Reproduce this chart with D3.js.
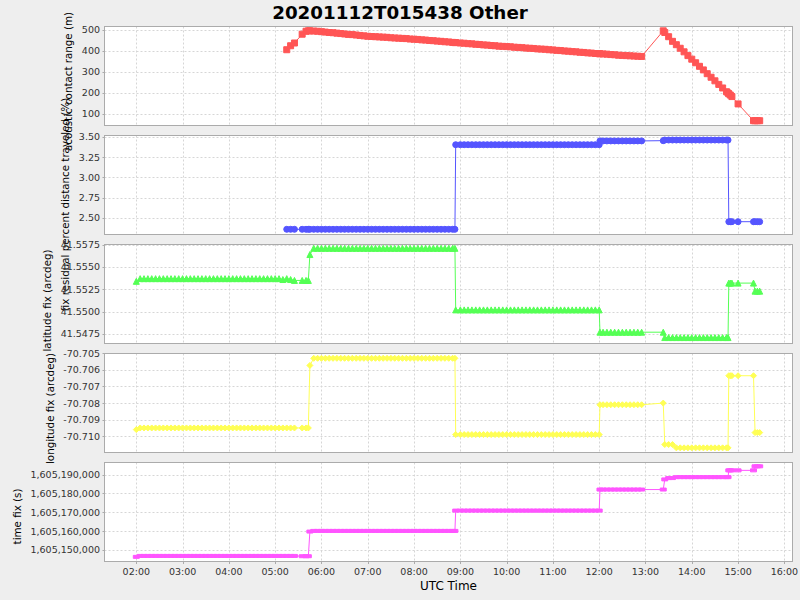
<!DOCTYPE html>
<html><head><meta charset="utf-8">
<script src="https://cdn.jsdelivr.net/npm/d3@7"></script>
<style>
body{margin:0;background:#EEEEEE;}
svg{display:block;font-family:"DejaVu Sans",sans-serif;}
</style>
</head><body>
<svg id="chart" width="800" height="600"></svg>
<script>
// ---------------- DATA ----------------
const chartTitle = "20201112T015438 Other";
const xAxisLabel = "UTC Time";

const times = [
"02:00","02:05","02:10","02:15","02:20","02:25","02:30","02:35","02:40","02:45","02:50","02:55",
"03:00","03:05","03:10","03:15","03:20","03:25","03:30","03:35","03:40","03:45","03:50","03:55",
"04:00","04:05","04:10","04:15","04:20","04:25","04:30","04:35","04:40","04:45","04:50","04:55",
"05:00","05:05","05:10","05:15","05:20","05:25","05:35","05:40","05:43","05:45","05:50","05:55",
"06:00","06:05","06:10","06:15","06:20","06:25","06:30","06:35","06:40","06:45","06:50","06:55",
"07:00","07:05","07:10","07:15","07:20","07:25","07:30","07:35","07:40","07:45","07:50","07:55",
"08:00","08:05","08:10","08:15","08:20","08:25","08:30","08:35","08:40","08:45","08:50","08:53","08:54",
"09:00","09:05","09:10","09:15","09:20","09:25","09:30","09:35","09:40","09:45","09:50","09:55",
"10:00","10:05","10:10","10:15","10:20","10:25","10:30","10:35","10:40","10:45","10:50","10:55",
"11:00","11:05","11:10","11:15","11:20","11:25","11:30","11:35","11:40","11:45","11:50","11:55",
"12:00","12:01","12:05","12:10","12:15","12:20","12:25","12:30","12:35","12:40","12:45","12:50","12:55",
"13:23","13:25","13:30","13:35","13:40","13:45","13:50","13:55",
"14:00","14:05","14:10","14:15","14:20","14:25","14:30","14:35","14:40","14:45","14:47","14:48","14:50","14:52",
"15:00","15:20","15:22","15:25","15:28"
];

const rangeValues = [
null,null,null,null,null,null,null,null,null,null,null,null,
null,null,null,null,null,null,null,null,null,null,null,null,
null,null,null,null,null,null,null,null,null,null,null,null,
null,null,null,406,425,438,480,494,496,496,495,494,
492,490,488,487,485,483,481,479,478,476,474,472,
470,469,468,467,466,465,463,462,461,460,459,457,
456,455,453,452,450,449,447,446,444,443,441,440,440,
438,437,435,434,432,431,429,428,426,425,423,422,
421,420,418,417,416,414,413,412,410,409,408,406,
405,403,402,400,399,397,396,394,393,391,390,388,
387,387,386,385,383,382,380,379,378,377,376,375,374,
496,488,468,446,430,413,396,378,
361,344,327,310,292,275,258,241,224,206,200,196,190,183,
148,68,68,68,68
];

const percentValues = [
null,null,null,null,null,null,null,null,null,null,null,null,
null,null,null,null,null,null,null,null,null,null,null,null,
null,null,null,null,null,null,null,null,null,null,null,null,
null,null,null,2.36,2.36,2.36,2.36,2.36,2.36,2.36,2.36,2.36,
2.36,2.36,2.36,2.36,2.36,2.36,2.36,2.36,2.36,2.36,2.36,2.36,
2.36,2.36,2.36,2.36,2.36,2.36,2.36,2.36,2.36,2.36,2.36,2.36,
2.36,2.36,2.36,2.36,2.36,2.36,2.36,2.36,2.36,2.36,2.36,2.36,3.405,
3.405,3.405,3.405,3.405,3.405,3.405,3.405,3.405,3.405,3.405,3.405,3.405,
3.405,3.405,3.405,3.405,3.405,3.405,3.405,3.405,3.405,3.405,3.405,3.405,
3.405,3.405,3.405,3.405,3.405,3.405,3.405,3.405,3.405,3.405,3.405,3.405,
3.405,3.452,3.452,3.452,3.452,3.452,3.452,3.452,3.452,3.452,3.452,3.452,3.452,
3.455,3.463,3.463,3.463,3.463,3.463,3.463,3.463,
3.463,3.463,3.463,3.463,3.463,3.463,3.463,3.463,3.463,3.463,3.463,2.454,2.454,2.454,
2.454,2.454,2.454,2.454,2.454
];

const latitudeValues = [
41.5534,41.5537,41.5537,41.5537,41.5537,41.5537,41.5537,41.5537,41.5537,41.5537,41.5537,41.5537,
41.5537,41.5537,41.5537,41.5537,41.5537,41.5537,41.5537,41.5537,41.5537,41.5537,41.5537,41.5537,
41.5537,41.5537,41.5537,41.5537,41.5537,41.5537,41.5537,41.5537,41.5537,41.5537,41.5537,41.5537,
41.5537,41.5537,41.5536,41.5537,41.5536,41.5535,41.5535,41.5535,41.5535,41.5564,41.5571,41.5571,
41.5571,41.5571,41.5571,41.5571,41.5571,41.5571,41.5571,41.5571,41.5571,41.5571,41.5571,41.5571,
41.5571,41.5571,41.5571,41.5571,41.5571,41.5571,41.5571,41.5571,41.5571,41.5571,41.5571,41.5571,
41.5571,41.5571,41.5571,41.5571,41.5571,41.5571,41.5571,41.5571,41.5571,41.5571,41.5571,41.5571,41.5502,
41.5502,41.5502,41.5502,41.5502,41.5502,41.5502,41.5502,41.5502,41.5502,41.5502,41.5502,41.5502,
41.5502,41.5502,41.5502,41.5502,41.5502,41.5502,41.5502,41.5502,41.5502,41.5502,41.5502,41.5502,
41.5502,41.5502,41.5502,41.5502,41.5502,41.5502,41.5502,41.5502,41.5502,41.5502,41.5502,41.5502,
41.5502,41.5477,41.5477,41.5477,41.5477,41.5477,41.5477,41.5477,41.5477,41.5477,41.5477,41.5477,41.5477,
41.5477,41.5471,41.5471,41.5471,41.5471,41.5471,41.5471,41.5471,
41.5471,41.5471,41.5471,41.5471,41.5471,41.5471,41.5471,41.5471,41.5471,41.5471,41.5471,41.5532,41.5532,41.5532,
41.5532,41.5532,41.5523,41.5523,41.5523
];

const longitudeValues = [
-70.7096,-70.7095,-70.7095,-70.7095,-70.7095,-70.7095,-70.7095,-70.7095,-70.7095,-70.7095,-70.7095,-70.7095,
-70.7095,-70.7095,-70.7095,-70.7095,-70.7095,-70.7095,-70.7095,-70.7095,-70.7095,-70.7095,-70.7095,-70.7095,
-70.7095,-70.7095,-70.7095,-70.7095,-70.7095,-70.7095,-70.7095,-70.7095,-70.7095,-70.7095,-70.7095,-70.7095,
-70.7095,-70.7095,-70.7095,-70.7095,-70.7095,-70.7095,-70.7095,-70.7095,-70.7095,-70.70573,-70.7053,-70.7053,
-70.7053,-70.7053,-70.7053,-70.7053,-70.7053,-70.7053,-70.7053,-70.7053,-70.7053,-70.7053,-70.7053,-70.7053,
-70.7053,-70.7053,-70.7053,-70.7053,-70.7053,-70.7053,-70.7053,-70.7053,-70.7053,-70.7053,-70.7053,-70.7053,
-70.7053,-70.7053,-70.7053,-70.7053,-70.7053,-70.7053,-70.7053,-70.7053,-70.7053,-70.7053,-70.7053,-70.7053,-70.7099,
-70.7099,-70.7099,-70.7099,-70.7099,-70.7099,-70.7099,-70.7099,-70.7099,-70.7099,-70.7099,-70.7099,-70.7099,
-70.7099,-70.7099,-70.7099,-70.7099,-70.7099,-70.7099,-70.7099,-70.7099,-70.7099,-70.7099,-70.7099,-70.7099,
-70.7099,-70.7099,-70.7099,-70.7099,-70.7099,-70.7099,-70.7099,-70.7099,-70.7099,-70.7099,-70.7099,-70.7099,
-70.7099,-70.7081,-70.7081,-70.7081,-70.7081,-70.7081,-70.7081,-70.7081,-70.7081,-70.7081,-70.7081,-70.7081,-70.7081,
-70.7080,-70.7105,-70.7105,-70.7105,-70.7107,-70.7107,-70.7107,-70.7107,
-70.7107,-70.7107,-70.7107,-70.7107,-70.7107,-70.7107,-70.7107,-70.7107,-70.7107,-70.7107,-70.7107,-70.70635,-70.70635,-70.70635,
-70.70635,-70.70635,-70.70978,-70.70978,-70.70978
];

const timeFixValues = [
1605146300,1605146800,1605146800,1605146800,1605146800,1605146800,1605146800,1605146800,1605146800,1605146800,1605146800,1605146800,
1605146800,1605146800,1605146800,1605146800,1605146800,1605146800,1605146800,1605146800,1605146800,1605146800,1605146800,1605146800,
1605146800,1605146800,1605146800,1605146800,1605146800,1605146800,1605146800,1605146800,1605146800,1605146800,1605146800,1605146800,
1605146800,1605146800,1605146800,1605146800,1605146800,1605146800,1605146650,1605146650,1605146650,1605159750,1605160100,1605160100,
1605160100,1605160100,1605160100,1605160100,1605160100,1605160100,1605160100,1605160100,1605160100,1605160100,1605160100,1605160100,
1605160100,1605160100,1605160100,1605160100,1605160100,1605160100,1605160100,1605160100,1605160100,1605160100,1605160100,1605160100,
1605160100,1605160100,1605160100,1605160100,1605160100,1605160100,1605160100,1605160100,1605160100,1605160100,1605160100,1605160100,1605170900,
1605170900,1605170900,1605170900,1605170900,1605170900,1605170900,1605170900,1605170900,1605170900,1605170900,1605170900,1605170900,
1605170900,1605170900,1605170900,1605170900,1605170900,1605170900,1605170900,1605170900,1605170900,1605170900,1605170900,1605170900,
1605170900,1605170900,1605170900,1605170900,1605170900,1605170900,1605170900,1605170900,1605170900,1605170900,1605170900,1605170900,
1605170900,1605182100,1605182100,1605182100,1605182100,1605182100,1605182100,1605182100,1605182100,1605182100,1605182100,1605182100,1605182100,
1605182100,1605187500,1605188200,1605188200,1605188700,1605188700,1605188700,1605188700,
1605188700,1605188700,1605188700,1605188700,1605188700,1605188700,1605188700,1605188700,1605188700,1605188700,1605188700,1605192300,1605192300,1605192300,
1605192300,1605192300,1605194450,1605194450,1605194450
];

const seriesLabels = [
  "acoustic contact range (m)",
  "fix residual percent distance traveled (%)",
  "latitude fix (arcdeg)",
  "longitude fix (arcdeg)",
  "time fix (s)"
];
const rangeTicks = [100,200,300,400,500];
const percentTicks = [2.50,2.75,3.00,3.25,3.50];
const latitudeTicks = [41.5475,41.5500,41.5525,41.5550,41.5575];
const longitudeTicks = [-70.710,-70.709,-70.708,-70.707,-70.706,-70.705];
const timeFixTicks = [1605150000,1605160000,1605170000,1605180000,1605190000];
const xTickHours = [2,3,4,5,6,7,8,9,10,11,12,13,14,15,16];

// ---------------- RENDER ----------------
const loc = d3.formatLocale({decimal:".",thousands:",",grouping:[3],currency:["$",""],minus:"-"});
const toDate = s => { const [h,m] = s.split(":").map(Number); return new Date(Date.UTC(2020,10,12,h,m)); };
const dates = times.map(toDate);

const panels = [
  {values: rangeValues,     ticks: rangeTicks,     domain:[47.6,519],              fmt: loc.format("d"),   color:"#FF5555", shape:"square",   labelShift:6},
  {values: percentValues,   ticks: percentTicks,   domain:[2.302,3.525],           fmt: loc.format(".2f"), color:"#5555FF", shape:"circle",   labelShift:20},
  {values: latitudeValues,  ticks: latitudeTicks,  domain:[41.54649,41.55758],     fmt: loc.format(".4f"), color:"#55FF55", shape:"triangle", labelShift:7},
  {values: longitudeValues, ticks: longitudeTicks, domain:[-70.71095,-70.70498],   fmt: loc.format(".3f"), color:"#FFFF55", shape:"diamond",  labelShift:6},
  {values: timeFixValues,   ticks: timeFixTicks,   domain:[1605144100,1605196750], fmt: loc.format(",d"),  color:"#FF55FF", shape:"rect",     labelShift:5}
];

const svg = d3.select("#chart");
svg.append("rect").attr("width",800).attr("height",600).attr("fill","#EEEEEE");

const plotL = 104.5, plotR = 792.5;
const panelTops = [26, 135, 244, 353, 462];
const panelH = 99;

const x = d3.scaleUtc()
  .domain([new Date(Date.UTC(2020,10,12,1,18,47)), new Date(Date.UTC(2020,10,12,16,10,33))])
  .range([plotL, plotR]);
const xTicks = xTickHours.map(h => new Date(Date.UTC(2020,10,12,h,0)));

svg.append("text").attr("x",400).attr("y",18.5).attr("text-anchor","middle")
  .attr("font-size","18.3px").attr("font-weight","bold").attr("fill","#000").text(chartTitle);

const shapes = {
  square: "M-3,-3H3V3H-3Z",
  circle: d3.symbol(d3.symbolCircle, Math.PI*9)(),
  triangle: "M0,-3L3,3L-3,3Z",
  diamond: "M0,-3L3,0L0,3L-3,0Z",
  rect: "M-3,-1.5H3V1.5H-3Z"
};

panels.forEach((p, i) => {
  const top = panelTops[i], bot = top + panelH;
  const y = d3.scaleLinear().domain(p.domain).range([bot, top]);
  const g = svg.append("g");
  g.append("rect").attr("x",plotL).attr("y",top+0.5).attr("width",plotR-plotL).attr("height",panelH)
    .attr("fill","#FFFFFF");
  // gridlines
  g.selectAll(".vg").data(xTicks).join("line")
    .attr("x1",d=>Math.round(x(d))+0.5).attr("x2",d=>Math.round(x(d))+0.5)
    .attr("y1",top+0.5).attr("y2",bot+0.5)
    .attr("stroke","#D6D6D6").attr("stroke-dasharray","2,2");
  g.selectAll(".hg").data(p.ticks).join("line")
    .attr("x1",plotL).attr("x2",plotR)
    .attr("y1",d=>Math.round(y(d))+0.5).attr("y2",d=>Math.round(y(d))+0.5)
    .attr("stroke","#D6D6D6").attr("stroke-dasharray","2,2");
  // clip
  const cid = "clip"+i;
  svg.append("clipPath").attr("id",cid).append("rect")
    .attr("x",plotL).attr("y",top+0.5).attr("width",plotR-plotL).attr("height",panelH);
  const pts = dates.map((d,k)=>({d, v:p.values[k]})).filter(o=>o.v!==null);
  const dg = g.append("g").attr("clip-path",`url(#${cid})`);
  dg.append("path").datum(pts)
    .attr("d", d3.line().x(o=>x(o.d)).y(o=>y(o.v)))
    .attr("fill","none").attr("stroke",p.color).attr("stroke-width",1);
  dg.selectAll(".m").data(pts).join("path")
    .attr("transform",o=>`translate(${x(o.d)},${y(o.v)})`)
    .attr("d",shapes[p.shape]).attr("fill",p.color)
    .attr("stroke",p.color).attr("stroke-width",1).attr("stroke-linejoin","round");
  // border
  g.append("rect").attr("x",plotL).attr("y",top+0.5).attr("width",plotR-plotL).attr("height",panelH)
    .attr("fill","none").attr("stroke","#ABABAB");
  // y axis ticks & labels
  const ax = g.append("g");
  ax.selectAll("line").data(p.ticks).join("line")
    .attr("x1",plotL-2).attr("x2",plotL)
    .attr("y1",d=>Math.round(y(d))+0.5).attr("y2",d=>Math.round(y(d))+0.5)
    .attr("stroke","#ABABAB");
  const lbls = ax.selectAll("text").data(p.ticks).join("text")
    .attr("x",plotL-4.5).attr("y",d=>y(d)).attr("dy","0.36em")
    .attr("text-anchor","end").attr("font-size","9.5px").attr("fill","#333")
    .text(d=>p.fmt(d));
  let minX = Infinity;
  lbls.each(function(){ minX = Math.min(minX, this.getBBox().x); });
  const cy = (top+bot)/2 + p.labelShift;
  const lx = minX - 9.5;
  g.append("text").attr("transform",`translate(${lx},${cy}) rotate(-90)`)
    .attr("text-anchor","middle").attr("font-size","10.3px").attr("fill","#000")
    .text(seriesLabels[i]);
});

// x axis
const lastBot = panelTops[4] + panelH + 0.5;
const xa = svg.append("g");
xa.selectAll("line").data(xTicks).join("line")
  .attr("x1",d=>Math.round(x(d))+0.5).attr("x2",d=>Math.round(x(d))+0.5)
  .attr("y1",lastBot).attr("y2",lastBot+2.5).attr("stroke","#ABABAB");
xa.selectAll("text").data(xTicks).join("text")
  .attr("x",d=>x(d)).attr("y",lastBot+13.5).attr("text-anchor","middle")
  .attr("font-size","9.5px").attr("fill","#333").text(d=>d3.utcFormat("%H:%M")(d));
svg.append("text").attr("x",(plotL+plotR)/2).attr("y",590).attr("text-anchor","middle")
  .attr("font-size","12px").attr("fill","#000").text(xAxisLabel);
</script>
</body></html>
